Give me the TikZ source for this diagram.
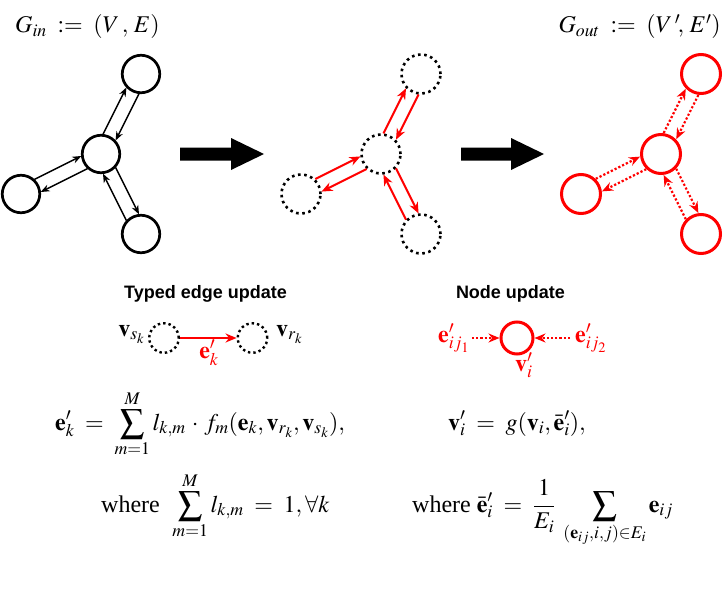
\documentclass[tikz,border=0pt]{standalone}
\usepackage{mathptmx}
\usepackage[no-math]{fontspec}
\setmainfont{Liberation Serif}
\newfontfamily\headfont{Liberation Sans}
\usetikzlibrary{arrows.meta,calc}
\tikzset{
  bignode/.style={circle, draw=black, line width=2.7pt, minimum size=37.5pt, inner sep=0pt},
  dotnode/.style={circle, draw=black, line width=2.6pt, dash pattern=on 2.6pt off 3.6pt, minimum size=39pt, inner sep=0pt},
  rednode/.style={circle, draw=red, line width=3pt, minimum size=39pt, inner sep=0pt},
  smalldot/.style={circle, draw=black, line width=2.4pt, dash pattern=on 2.4pt off 3pt, minimum size=29.5pt, inner sep=0pt},
  smallred/.style={circle, draw=red, line width=3pt, minimum size=32pt, inner sep=0pt},
  edgeA/.style={line width=1.4pt, -{Stealth[length=9pt,width=7pt]}, shorten <=18.5pt, shorten >=18.5pt},
  edgeB/.style={draw=red, line width=2pt, -{Stealth[length=11pt,width=9pt]}, shorten <=19.5pt, shorten >=19.5pt},
  edgeC/.style={draw=red, line width=2.2pt, dash pattern=on 2.2pt off 2pt, -{Stealth[length=11pt,width=9pt]}, shorten <=20pt, shorten >=20pt},
  mathlbl/.style={inner sep=0pt, font=\fontsize{24}{28}\selectfont},
  titlelbl/.style={inner sep=0pt, font=\fontsize{24}{28}\selectfont},
  headlbl/.style={inner sep=0pt, font=\headfont\bfseries\fontsize{18}{22}\selectfont},
  blockarrow/.style={fill=black}
}
\begin{document}
\begin{tikzpicture}[x=1pt, y=-1pt]
\useasboundingbox (0,0) rectangle (723,594);

% titles
\node[titlelbl, anchor=base west] (tin) at (15,33) {$G_{in}\;:=\;(V\,,\,E)$};
\node[titlelbl, anchor=base east] (tout) at (721,33) {$G_{out}\;:=\;(V\,'\!,\,E')$};

% graph 1
\node[bignode] (c1) at (101,154) {};
\node[bignode] (t1) at (141,74) {};
\node[bignode] (l1) at (21,194) {};
\node[bignode] (b1) at (141,234) {};
\draw[edgeA] ([shift={(-6.3,-3.1)}]c1.center) -- ([shift={(-6.3,-3.1)}]t1.center);
\draw[edgeA] ([shift={(6.3,3.1)}]t1.center) -- ([shift={(6.3,3.1)}]c1.center);
\draw[edgeA] ([shift={(3.1,6.3)}]c1.center) -- ([shift={(3.1,6.3)}]l1.center);
\draw[edgeA] ([shift={(-3.1,-6.3)}]l1.center) -- ([shift={(-3.1,-6.3)}]c1.center);
\draw[edgeA] ([shift={(6.3,-3.1)}]c1.center) -- ([shift={(6.3,-3.1)}]b1.center);
\draw[edgeA] ([shift={(-6.3,3.1)}]b1.center) -- ([shift={(-6.3,3.1)}]c1.center);

% block arrows
\fill[blockarrow] (180,147.5) -- (231,147.5) -- (231,138) -- (264,154) -- (231,170) -- (231,160.5) -- (180,160.5) -- cycle;
\fill[blockarrow] (461,147.5) -- (511,147.5) -- (511,138) -- (544,154) -- (511,170) -- (511,160.5) -- (461,160.5) -- cycle;

% graph 2
\node[dotnode] (c2) at (381,154) {};
\node[dotnode] (t2) at (421,74) {};
\node[dotnode] (l2) at (301,194) {};
\node[dotnode] (b2) at (421,234) {};
\draw[edgeB] ([shift={(-6.3,-3.1)}]c2.center) -- ([shift={(-6.3,-3.1)}]t2.center);
\draw[edgeB] ([shift={(6.3,3.1)}]t2.center) -- ([shift={(6.3,3.1)}]c2.center);
\draw[edgeB] ([shift={(3.1,6.3)}]c2.center) -- ([shift={(3.1,6.3)}]l2.center);
\draw[edgeB] ([shift={(-3.1,-6.3)}]l2.center) -- ([shift={(-3.1,-6.3)}]c2.center);
\draw[edgeB] ([shift={(6.3,-3.1)}]c2.center) -- ([shift={(6.3,-3.1)}]b2.center);
\draw[edgeB] ([shift={(-6.3,3.1)}]b2.center) -- ([shift={(-6.3,3.1)}]c2.center);

% graph 3
\node[rednode] (c3) at (661,154) {};
\node[rednode] (t3) at (701,74) {};
\node[rednode] (l3) at (581,194) {};
\node[rednode] (b3) at (701,234) {};
\draw[edgeC] ([shift={(-6.3,-3.1)}]c3.center) -- ([shift={(-6.3,-3.1)}]t3.center);
\draw[edgeC] ([shift={(6.3,3.1)}]t3.center) -- ([shift={(6.3,3.1)}]c3.center);
\draw[edgeC] ([shift={(3.1,6.3)}]c3.center) -- ([shift={(3.1,6.3)}]l3.center);
\draw[edgeC] ([shift={(-3.1,-6.3)}]l3.center) -- ([shift={(-3.1,-6.3)}]c3.center);
\draw[edgeC] ([shift={(6.3,-3.1)}]c3.center) -- ([shift={(6.3,-3.1)}]b3.center);
\draw[edgeC] ([shift={(-6.3,3.1)}]b3.center) -- ([shift={(-6.3,3.1)}]c3.center);

% headers
\node[headlbl, anchor=base] (h1) at (205.5,298) {Typed edge update};
\node[headlbl, anchor=base] (h2) at (510.5,298) {Node update};

% typed edge update mini diagram
\node[smalldot] (sk) at (164,338) {};
\node[smalldot] (rk) at (252.5,338) {};
\draw[red, line width=2pt, -{Stealth[length=11pt,width=9pt]}] (sk.east) -- (rk.west);
\node[mathlbl, anchor=base east] (vs) at (145,336) {$\mathbf{v}_{s_k}$};
\node[mathlbl, anchor=base west] (vr) at (276,336) {$\mathbf{v}_{r_k}$};
\node[mathlbl, anchor=base, text=red] (ek) at (209,358) {$\mathbf{e}'_k$};

% node update mini diagram
\node[smallred] (vi) at (517,338) {};
\coordinate (ina) at (472,338);
\coordinate (inb) at (570,338);
\draw[red, line width=2.2pt, dash pattern=on 2.2pt off 2pt, -{Stealth[length=11pt,width=9pt]}] (ina) -- (vi.west);
\draw[red, line width=2.2pt, dash pattern=on 2.2pt off 2pt, -{Stealth[length=11pt,width=9pt]}] (inb) -- (vi.east);
\node[mathlbl, anchor=base west, text=red] (e1) at (438,342) {$\mathbf{e}'_{ij_1}$};
\node[mathlbl, anchor=base west, text=red] (e2) at (575,342) {$\mathbf{e}'_{ij_2}$};
\node[mathlbl, anchor=base west, text=red] (vil) at (515,371) {$\mathbf{v}'_i$};

% formulas
\node[mathlbl, anchor=base west] (f1) at (55,430) {$\displaystyle \mathbf{e}'_k \;=\; \sum_{m=1}^{M} l_{k,m}\,\cdot\, f_m(\mathbf{e}_k, \mathbf{v}_{r_k}, \mathbf{v}_{s_k}),$};
\node[mathlbl, anchor=base west] (f2) at (448,430) {$\displaystyle \mathbf{v}'_i \;=\; g(\mathbf{v}_i, \bar{\mathbf{e}}'_i),$};
\node[mathlbl, anchor=base west] (f3) at (101,512) {where\; $\displaystyle \sum_{m=1}^{M} l_{k,m} \;=\; 1, \forall k$};
\node[mathlbl, anchor=base west] (f4) at (412,512) {where $\displaystyle \bar{\mathbf{e}}'_i \;=\; \frac{1}{E_i}\;\sum_{(\mathbf{e}_{ij},i,j)\in E_i} \mathbf{e}_{ij}$};
\end{tikzpicture}
\end{document}
